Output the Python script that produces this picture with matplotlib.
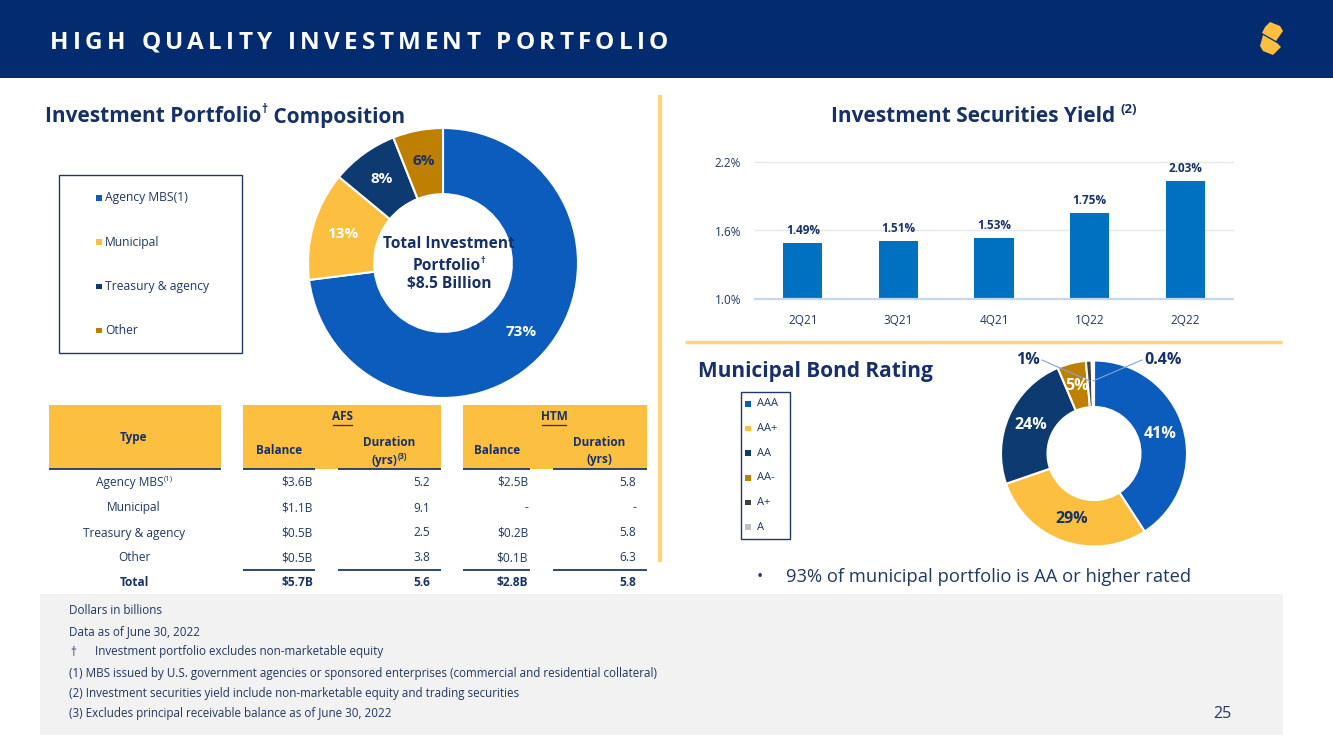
import matplotlib
matplotlib.use('Agg')
import matplotlib.pyplot as plt
from matplotlib.patches import Rectangle, Polygon
import numpy as np

# ---------------- data ----------------
title = "HIGH QUALITY INVESTMENT PORTFOLIO"
comp_labels = ['Agency MBS(1)', 'Municipal', 'Treasury & agency', 'Other']
comp_values = [73, 13, 8, 6]
comp_total = '$8.5 Billion'

yield_quarters = ['2Q21', '3Q21', '4Q21', '1Q22', '2Q22']
yield_values = [1.49, 1.51, 1.53, 1.75, 2.03]
yield_ticks = [1.0, 1.6, 2.2]

muni_labels = ['AAA', 'AA+', 'AA', 'AA-', 'A+', 'A']
muni_values = [41, 29, 24, 5, 1, 0.4]
muni_text = ['41%', '29%', '24%', '5%', '1%', '0.4%']

table_types = ['Agency MBS', 'Municipal', 'Treasury & agency', 'Other', 'Total']
afs_balance = ['$3.6B', '$1.1B', '$0.5B', '$0.5B', '$5.7B']
afs_duration = ['5.2', '9.1', '2.5', '3.8', '5.6']
htm_balance = ['$2.5B', '-', '$0.2B', '$0.1B', '$2.8B']
htm_duration = ['5.8', '-', '5.8', '6.3', '5.8']

footnotes = ['Dollars in billions',
             'Data as of June 30, 2022',
             'Investment portfolio excludes non-marketable equity',
             '(1) MBS issued by U.S. government agencies or sponsored enterprises (commercial and residential collateral)',
             '(2) Investment securities yield include non-marketable equity and trading securities',
             '(3) Excludes principal receivable balance as of June 30, 2022']
bullet_text = '93% of municipal portfolio is AA or higher rated'
page_number = '25'

# ---------------- style ----------------
W, H = 1333, 749
FONT = 'Open Sans'
plt.rcParams['font.family'] = [FONT, 'DejaVu Sans']
HEAD_BG = '#022C6F'
NAVY = '#16306A'
TXT = '#1F3864'
BLUE = '#0B5CBD'
YEL = '#FDBF3F'
DNAVY = '#0E3A72'
GOLD = '#BF7F00'
comp_colors = [BLUE, YEL, DNAVY, GOLD]
muni_colors = [BLUE, YEL, DNAVY, GOLD, '#404040', '#BFBFBF']

fig = plt.figure(figsize=(W / 100, H / 100), dpi=100)
fig.patch.set_facecolor('white')


def rect(x0, y0, x1, y1):
    return [x0 / W, 1 - y1 / H, (x1 - x0) / W, (y1 - y0) / H]


bg = fig.add_axes([0, 0, 1, 1])
bg.set_xlim(0, W); bg.set_ylim(H, 0); bg.axis('off')

R = fig.canvas.get_renderer()

# backgrounds
bg.add_patch(Rectangle((0, 0), W, 78, color=HEAD_BG, lw=0))
bg.add_patch(Rectangle((40, 594), 1243, 141, color='#F2F2F2', lw=0))
bg.add_patch(Rectangle((49, 405), 172, 64, color=YEL, lw=0))
bg.add_patch(Rectangle((243, 405), 198, 64, color=YEL, lw=0))
bg.add_patch(Rectangle((463, 405), 184, 64, color=YEL, lw=0))
bg.plot([660, 660], [95, 562], color='#FFD57A', lw=3, solid_capstyle='butt')
bg.plot([685, 1282], [342, 342], color='#FFD57A', lw=2.5, solid_capstyle='butt')
# logo (stylised S from two slanted strokes)
bg.add_patch(Polygon([(1270, 22), (1280, 26), (1283, 31), (1276, 41), (1262, 33), (1265, 27)],
                     closed=True, color=YEL, lw=0))
bg.add_patch(Polygon([(1263, 35), (1277, 43), (1281, 47), (1273, 55), (1263, 51), (1260, 46)],
                     closed=True, color=YEL, lw=0))

# table lines
for (a, b) in [(49, 221), (243, 315), (338, 441), (463, 530), (553, 647)]:
    bg.plot([a, b], [469, 469], color=TXT, lw=1.3, solid_capstyle='butt')
for (a, b) in [(243, 315), (338, 441), (463, 530), (553, 647)]:
    bg.plot([a, b], [570, 570], color=TXT, lw=1.3, solid_capstyle='butt')

# legend boxes
bg.add_patch(Rectangle((59, 175), 183, 178, fill=False, ec=TXT, lw=1))
bg.add_patch(Rectangle((741, 392), 49, 147, fill=False, ec=TXT, lw=1))

# ---------------- bar chart ----------------
axb = fig.add_axes(rect(755, 162, 1233, 299))
x = np.arange(len(yield_quarters))
axb.bar(x, yield_values, width=0.41, color='#0070C0', zorder=3)
axb.set_xlim(-0.5, len(x) - 0.5)
axb.set_ylim(yield_ticks[0], yield_ticks[-1])
for t in yield_ticks:
    if t == yield_ticks[0]:
        axb.axhline(t, color='#C6D8EE', lw=1.6, zorder=4, clip_on=False)
    else:
        axb.axhline(t, color='#E4E9F1', lw=1, zorder=1, clip_on=False)
axb.set_yticks(yield_ticks)
axb.set_yticklabels([f'{t:.1f}%' for t in yield_ticks])
axb.set_xticks(x)
axb.set_xticklabels(yield_quarters)
axb.tick_params(axis='y', length=0, pad=10, labelsize=8.5, labelcolor=TXT)
axb.tick_params(axis='x', length=0, pad=11, labelsize=8.5, labelcolor=TXT)
for s in axb.spines.values():
    s.set_visible(False)
axb.patch.set_visible(False)
for xi, v in zip(x, yield_values):
    axb.annotate(f'{v:.2f}%', (xi, v), xytext=(0, 4.5), textcoords='offset points',
                 ha='center', va='bottom', fontsize=8.5, fontweight='bold', color=NAVY,
                 annotation_clip=False)

# ---------------- donuts ----------------
def donut(cx, cy, r, values, colors, width):
    ax = fig.add_axes(rect(cx - r, cy - r, cx + r, cy + r))
    ax.pie(values, colors=colors, startangle=90, counterclock=False, radius=1,
           wedgeprops=dict(width=width, edgecolor='white', linewidth=1.5))
    ax.set_xlim(-1, 1); ax.set_ylim(-1, 1); ax.set_aspect('equal'); ax.axis('off')
    tot = float(sum(values))
    cum = np.cumsum([0] + list(values))
    mids = []
    for i in range(len(values)):
        frac = (cum[i] + values[i] / 2) / tot
        mids.append(np.deg2rad(90 - frac * 360))
    return mids


D1 = (443, 263, 135)
mids1 = donut(*D1, comp_values, comp_colors, 0.49)
D2 = (1094, 453.5, 93)
mids2 = donut(*D2, muni_values, muni_colors, 0.5)

# ---------------- overlay for text ----------------
fg = fig.add_axes([0, 0, 1, 1])
fg.set_xlim(0, W); fg.set_ylim(H, 0); fg.axis('off')
fg.patch.set_visible(False)


def T(x, y, s, size, weight='normal', color=TXT, ha='center', va='center', **kw):
    return fg.text(x, y, s, fontsize=size, fontweight=weight, color=color, ha=ha, va=va, **kw)


def measure(s, size, weight='normal'):
    t = fg.text(0, 0, s, fontsize=size, fontweight=weight)
    w = t.get_window_extent(renderer=R).width
    t.remove()
    return w


def seq(x, y, parts, color=TXT, ha='left'):
    """parts: (text, size, weight, raise as fraction of main em)"""
    widths = [measure(s, sz, wt) for s, sz, wt, _ in parts]
    total = sum(widths)
    cur = {'left': x, 'center': x - total / 2, 'right': x - total}[ha]
    em = parts[0][1] * 100 / 72
    base = y + 0.36 * em
    for (s, sz, wt, rf), w in zip(parts, widths):
        fg.text(cur, base - rf * em, s, fontsize=sz, fontweight=wt, color=color,
                ha='left', va='baseline')
        cur += w
    return total


# title with letter spacing
tsize = 17.5
cw = [measure(c, tsize, 'bold') if c != ' ' else measure('I', tsize, 'bold') * 0.9 for c in title]
x0, x1 = 50, 668
track = (x1 - x0 - sum(cw)) / (len(title) - 1)
cx = x0
for c, w in zip(title, cw):
    if c != ' ':
        fg.text(cx, 49, c, fontsize=tsize, fontweight='bold', color='white', ha='left', va='baseline')
    cx += w + track

# headings
seq(45, 115, [('Investment Portfolio', 15, 'bold', 0), ('†', 8.5, 'bold', 0.45),
              (' Composition', 15, 'bold', 0)], color=NAVY)
seq(984, 115, [('Investment Securities Yield ', 15, 'bold', 0), ('(2)', 9.5, 'bold', 0.45)],
    color=NAVY, ha='center')
T(698, 372, 'Municipal Bond Rating', 15, 'bold', color=NAVY, ha='left')

# legend 1
for i, (lab, col) in enumerate(zip(comp_labels, comp_colors)):
    yy = 198 + i * 44.3
    fg.add_patch(Rectangle((96, yy - 3), 5.5, 5.5, color=col, lw=0))
    T(105, yy, lab, 8.7, ha='left')

# legend 2
for i, (lab, col) in enumerate(zip(muni_labels, muni_colors)):
    yy = 404 + i * 24.6
    fg.add_patch(Rectangle((745, yy - 2.75), 5.5, 5.5, color=col, lw=0))
    T(757, yy, lab, 8, ha='left')

# donut 1 labels
cx1, cy1, r1 = D1
lab_cols1 = ['white', 'white', 'white', NAVY]
for v, a, c in zip(comp_values, mids1, lab_cols1):
    rr = 0.77 * r1
    T(cx1 + rr * np.cos(a), cy1 - rr * np.sin(a), f'{v}%', 11, 'bold', color=c)
# center text
T(449, 244, 'Total Investment', 11.2, 'bold', color=NAVY)
seq(449, 264, [('Portfolio', 11.2, 'bold', 0), ('†', 6.5, 'bold', 0.45)], color=NAVY, ha='center')
T(449, 284, comp_total, 11.2, 'bold', color=NAVY)

# donut 2 labels
cx2, cy2, r2 = D2
lab_cols2 = ['white', NAVY, 'white', 'white']
for i in range(4):
    a = mids2[i]
    rr = 0.745 * r2
    T(cx2 + rr * np.cos(a), cy2 - rr * np.sin(a), muni_text[i], 11.5, 'bold', color=lab_cols2[i])
# outside labels with leaders
out_pos = {4: (1028, 360, 1042), 5: (1163, 360, 1142)}
for i, (tx, ty, lx) in out_pos.items():
    T(tx, ty, muni_text[i], 11.5, 'bold', color=NAVY)
    a = mids2[i]
    rr = 0.78 * r2
    px, py = cx2 + rr * np.cos(a), cy2 - rr * np.sin(a)
    fg.plot([lx, px], [ty, py], color='#7FA6D8', lw=0.8)

# bullet
T(760, 577, '•', 12, ha='center')
T(786, 577, bullet_text, 13.2, ha='left')

# table headers
T(134, 438, 'Type', 8.5, 'bold', color=NAVY)
for cxh, lab in [(342, 'AFS'), (554, 'HTM')]:
    T(cxh, 417, lab, 8.5, 'bold', color=NAVY)
    w = measure(lab, 8.5, 'bold')
    fg.plot([cxh - w / 2 + 1, cxh + w / 2 - 1], [424.5, 424.5], color=NAVY, lw=0.9)
T(279, 450, 'Balance', 8.5, 'bold', color=NAVY)
T(497, 450, 'Balance', 8.5, 'bold', color=NAVY)
T(389, 443, 'Duration', 8.5, 'bold', color=NAVY)
seq(389, 460, [('(yrs)', 8.5, 'bold', 0), ('(3)', 5.5, 'bold', 0.45)], color=NAVY, ha='center')
T(599, 443, 'Duration', 8.5, 'bold', color=NAVY)
T(599, 460, '(yrs)', 8.5, 'bold', color=NAVY)

# table body
row_y = [482, 508, 533, 557.5, 583]
for i, yy in enumerate(row_y):
    last = i == len(row_y) - 1
    wt = 'bold' if last else 'normal'
    col = NAVY if last else TXT
    sz = 8.6
    if i == 0:
        seq(134, yy, [(table_types[i], sz, wt, 0), ('(1)', 5.5, wt, 0.45)], color=col, ha='center')
    else:
        T(134, yy, table_types[i], sz, wt, color=col)
    T(313, yy, afs_balance[i], sz, wt, color=col, ha='right')
    T(430, yy, afs_duration[i], sz, wt, color=col, ha='right')
    T(528, yy, htm_balance[i], sz, wt, color=col, ha='right')
    T(636, yy, htm_duration[i], sz, wt, color=col, ha='right')

# footnotes
foot_y = [611, 632, 652, 673, 693, 714]
for i, (yy, s) in enumerate(zip(foot_y, footnotes)):
    if i == 2:
        T(70, yy, '†', 8.4, ha='left')
        T(95, yy, s, 8.4, ha='left')
    else:
        T(69, yy, s, 8.4, ha='left')
T(1222, 714, page_number, 11.5, ha='center')

fig.savefig('out.png', dpi=100, facecolor='white')
